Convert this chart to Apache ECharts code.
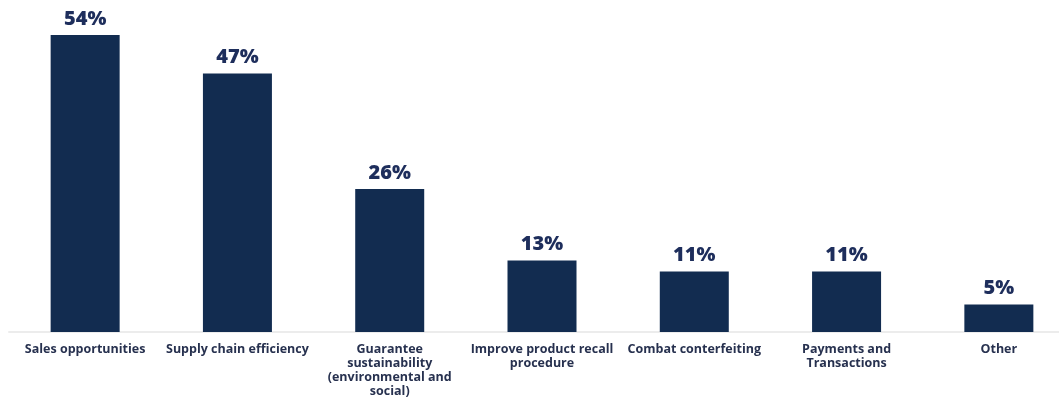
<!DOCTYPE html>
<html>
<head>
<meta charset="utf-8">
<script src="https://cdn.jsdelivr.net/npm/echarts@6/dist/echarts.min.js"></script>
<style>
html,body{margin:0;padding:0;background:#fff;}
#chart{width:1059px;height:397px;}
</style>
</head>
<body>
<div id="chart"></div>
<script>
const categories = [
  "Sales opportunities",
  "Supply chain efficiency",
  "Guarantee\nsustainability\n(environmental and\nsocial)",
  "Improve product recall\nprocedure",
  "Combat conterfeiting",
  "Payments and\nTransactions",
  "Other"
];
const values = [54, 47, 26, 13, 11, 11, 5];

const chart = echarts.init(document.getElementById('chart'));
chart.setOption({
  animation: false,
  backgroundColor: '#ffffff',
  grid: { left: 9, width: 1066, top: 2, bottom: 65, containLabel: false, outerBoundsMode: 'none' },
  xAxis: {
    type: 'category',
    data: categories,
    axisLine: { show: true, lineStyle: { color: '#ececec', width: 2 } },
    axisTick: { show: false },
    axisLabel: {
      interval: 0,
      margin: 10,
      color: '#27314f',
      fontFamily: 'Open Sans',
      fontWeight: 700,
      fontSize: 12.5,
      lineHeight: 14,
      align: 'center'
    }
  },
  yAxis: {
    type: 'value',
    min: 0,
    max: 60,
    show: false,
    splitLine: { show: false }
  },
  series: [{
    type: 'bar',
    data: values,
    barWidth: 69,
    itemStyle: { color: '#122c50' },
    label: {
      show: true,
      position: 'top',
      distance: 6,
      formatter: '{c}%',
      color: '#1e2e5c',
      fontFamily: 'Open Sans',
      fontWeight: 800,
      fontSize: 20
    }
  }]
});
</script>
</body>
</html>
